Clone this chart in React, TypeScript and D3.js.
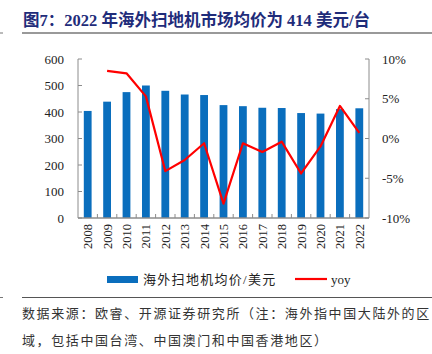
import * as d3 from 'd3'

const years = ['2008', '2009', '2010', '2011', '2012', '2013', '2014', '2015', '2016', '2017', '2018', '2019', '2020', '2021', '2022']
const avgPrice = [404, 439, 475, 500, 480, 466, 464, 426, 422, 416, 415, 396, 394, 411, 414]
const yoy: (number | null)[] = [null, 8.5, 8.2, 5.3, -4.1, -2.7, -0.6, -8.2, -0.6, -1.7, -0.4, -4.4, -1.0, 4.1, 0.7]
const leftTicks = [0, 100, 200, 300, 400, 500, 600]
const rightTicks = [-10, -5, 0, 5, 10]

const serif = "'Liberation Serif', 'Times New Roman', 'Noto Sans CJK SC', serif"
const cjk = "'Liberation Serif', 'Noto Sans CJK SC', serif"

export default function App() {
  const width = 432
  const height = 354
  const margin = { top: 59, right: 63, bottom: 136, left: 78 }
  const plotBottom = height - margin.bottom
  const x = d3.scaleBand<string>().domain(years).range([margin.left, width - margin.right])
  const yLeft = d3.scaleLinear().domain([0, 600]).range([plotBottom, margin.top])
  const yRight = d3.scaleLinear().domain([-10, 10]).range([plotBottom, margin.top])
  const barWidth = 7.8
  const axisColor = '#8c8c8c'

  const line = d3
    .line<{ year: string; v: number | null }>()
    .defined((d) => d.v !== null)
    .x((d) => (x(d.year) ?? 0) + x.bandwidth() / 2)
    .y((d) => yRight(d.v ?? 0))
  const lineData = years.map((year, i) => ({ year, v: yoy[i] }))

  return (
    <svg width={width} height={height} style={{ position: 'absolute', left: 0, top: 0, background: '#fff' }}>
      <text x={23} y={26} fontSize="16.5" fontWeight="bold" fill="#1f2c7a" fontFamily={cjk}>
        图7：2022 年海外扫地机市场均价为 414 美元/台
      </text>
      <line x1={22} x2={432} y1={33} y2={33} stroke="#777" strokeWidth="1.3" />
      <line x1={0} x2={3} y1={33} y2={33} stroke="#777" strokeWidth="1" />

      {years.map((year, i) => (
        <rect
          key={year}
          x={(x(year) ?? 0) + x.bandwidth() / 2 - barWidth / 2}
          y={yLeft(avgPrice[i])}
          width={barWidth}
          height={plotBottom - yLeft(avgPrice[i])}
          fill="#0a6ebd"
        />
      ))}

      <path d={line(lineData) ?? ''} fill="none" stroke="#ff0000" strokeWidth="2.2" strokeLinejoin="round" />

      {/* left axis */}
      <line x1={margin.left} x2={margin.left} y1={margin.top} y2={plotBottom} stroke={axisColor} strokeWidth="1" />
      {leftTicks.map((t) => (
        <g key={t}>
          <line x1={margin.left} x2={margin.left + 4} y1={yLeft(t)} y2={yLeft(t)} stroke={axisColor} />
          <text x={64} y={yLeft(t) + 4.5} textAnchor="end" fontSize="13" fontFamily={serif} fill="#222">
            {t}
          </text>
        </g>
      ))}

      {/* right axis */}
      <line x1={width - margin.right} x2={width - margin.right} y1={margin.top} y2={plotBottom} stroke={axisColor} />
      {rightTicks.map((t) => (
        <g key={t}>
          <line
            x1={width - margin.right - 4}
            x2={width - margin.right}
            y1={yRight(t)}
            y2={yRight(t)}
            stroke={axisColor}
          />
          <text x={382} y={yRight(t) + 4.5} fontSize="13" fontFamily={serif} fill="#222">
            {t}%
          </text>
        </g>
      ))}

      {/* bottom axis */}
      <line x1={margin.left} x2={width - margin.right} y1={plotBottom} y2={plotBottom} stroke={axisColor} strokeWidth="1.5" />
      {years.slice(1).map((year) => (
        <line key={year} x1={x(year)} x2={x(year)} y1={plotBottom - 4} y2={plotBottom} stroke={axisColor} />
      ))}
      {years.map((year) => {
        const cx = (x(year) ?? 0) + x.bandwidth() / 2
        return (
          <text
            key={year}
            transform={`translate(${cx + 4.5},${plotBottom + 6}) rotate(-90)`}
            textAnchor="end"
            fontSize="12.5"
            fontFamily={serif}
            fill="#222"
          >
            {year}
          </text>
        )
      })}

      {/* legend */}
      <rect x={107} y={276} width={31} height={7} fill="#0a6ebd" />
      <text x={143} y={284} fontSize="13" fontFamily={cjk} fill="#222" letterSpacing="1.3">
        海外扫地机均价/美元
      </text>
      <line x1={295} x2={327} y1={279} y2={279} stroke="#ff0000" strokeWidth="2.2" />
      <text x={331} y={284} fontSize="13" fontFamily={serif} fill="#222">
        yoy
      </text>

      {/* footer */}
      <line x1={22} x2={432} y1={297.5} y2={297.5} stroke="#555" strokeWidth="1" />
      <line x1={0} x2={3} y1={297.5} y2={297.5} stroke="#777" strokeWidth="1" />
      <text x={22} y={318} fontSize="13" fontFamily={cjk} fill="#333" letterSpacing="1.6">
        数据来源：欧睿、开源证券研究所（注：海外指中国大陆外的区
      </text>
      <text x={22} y={345} fontSize="13" fontFamily={cjk} fill="#333" letterSpacing="1.6">
        域，包括中国台湾、中国澳门和中国香港地区）
      </text>
    </svg>
  )
}
